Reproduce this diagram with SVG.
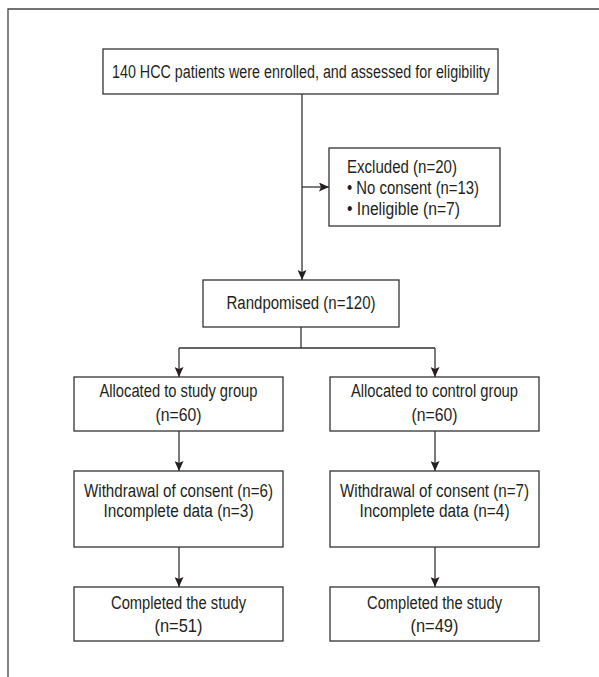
<svg xmlns="http://www.w3.org/2000/svg" width="599" height="677" viewBox="0 0 599 677">
<defs>
<style>
.box{fill:#fff;stroke:#333;stroke-width:1.3}
.t{font-family:"Liberation Sans",Arial,sans-serif;font-size:18px;fill:#231f20}
.c{text-anchor:middle}
.ln{fill:none;stroke:#333;stroke-width:1.3}
.frame{fill:none;stroke:#444;stroke-width:1.3}
</style>
<marker id="arr" viewBox="0 0 10 9" refX="10" refY="4.5" markerWidth="10" markerHeight="9" markerUnits="userSpaceOnUse" orient="auto">
<path d="M0,0 L10,4.5 L0,9 L2,4.5 z" fill="#231f20"/>
</marker>
</defs>
<rect width="599" height="677" fill="#fff"/>
<path class="frame" d="M8,677 L8,9 L599,9"/>
<g id="connectors">
<path class="ln" d="M302,94 L302,280" marker-end="url(#arr)"/>
<path class="ln" d="M302,187 L329,187" marker-end="url(#arr)"/>
<path class="ln" d="M301,327 L301,348 M179,348 L435,348"/>
<path class="ln" d="M179,348 L179,377" marker-end="url(#arr)"/>
<path class="ln" d="M435,348 L435,377" marker-end="url(#arr)"/>
<path class="ln" d="M179,431 L179,471" marker-end="url(#arr)"/>
<path class="ln" d="M435,431 L435,471" marker-end="url(#arr)"/>
<path class="ln" d="M179,547 L179,587" marker-end="url(#arr)"/>
<path class="ln" d="M435,547 L435,587" marker-end="url(#arr)"/>
</g>
<g id="enrolled">
<rect class="box" x="103" y="49" width="395" height="45"/>
<text class="t c" x="301" y="78" textLength="378" lengthAdjust="spacingAndGlyphs">140 HCC patients were enrolled, and assessed for eligibility</text>
</g>
<g id="excluded">
<rect class="box" x="329" y="148" width="171" height="78"/>
<text class="t" x="347" y="173" textLength="110" lengthAdjust="spacingAndGlyphs">Excluded (n=20)</text>
<text class="t" x="347" y="194" textLength="132" lengthAdjust="spacingAndGlyphs">• No consent (n=13)</text>
<text class="t" x="347" y="215" textLength="113" lengthAdjust="spacingAndGlyphs">• Ineligible (n=7)</text>
</g>
<g id="randomised">
<rect class="box" x="203" y="280" width="196" height="47"/>
<text class="t c" x="301" y="309" textLength="149" lengthAdjust="spacingAndGlyphs">Randpomised (n=120)</text>
</g>
<g id="alloc-study">
<rect class="box" x="74" y="377" width="209" height="54"/>
<text class="t c" x="178.5" y="397" textLength="158" lengthAdjust="spacingAndGlyphs">Allocated to study group</text>
<text class="t c" x="178.5" y="421" textLength="46" lengthAdjust="spacingAndGlyphs">(n=60)</text>
</g>
<g id="alloc-control">
<rect class="box" x="330" y="377" width="209" height="54"/>
<text class="t c" x="434.5" y="397" textLength="167" lengthAdjust="spacingAndGlyphs">Allocated to control group</text>
<text class="t c" x="434.5" y="421" textLength="46" lengthAdjust="spacingAndGlyphs">(n=60)</text>
</g>
<g id="withdraw-study">
<rect class="box" x="74" y="471" width="209" height="76"/>
<text class="t c" x="178.5" y="497" textLength="189" lengthAdjust="spacingAndGlyphs">Withdrawal of consent (n=6)</text>
<text class="t c" x="178.5" y="517" textLength="150" lengthAdjust="spacingAndGlyphs">Incomplete data (n=3)</text>
</g>
<g id="withdraw-control">
<rect class="box" x="330" y="471" width="209" height="76"/>
<text class="t c" x="434.5" y="497" textLength="189" lengthAdjust="spacingAndGlyphs">Withdrawal of consent (n=7)</text>
<text class="t c" x="434.5" y="517" textLength="150" lengthAdjust="spacingAndGlyphs">Incomplete data (n=4)</text>
</g>
<g id="completed-study">
<rect class="box" x="74" y="587" width="209" height="54"/>
<text class="t c" x="178.5" y="609" textLength="135" lengthAdjust="spacingAndGlyphs">Completed the study</text>
<text class="t c" x="178.5" y="632" textLength="48" lengthAdjust="spacingAndGlyphs">(n=51)</text>
</g>
<g id="completed-control">
<rect class="box" x="330" y="587" width="209" height="54"/>
<text class="t c" x="434.5" y="609" textLength="135" lengthAdjust="spacingAndGlyphs">Completed the study</text>
<text class="t c" x="434.5" y="632" textLength="48" lengthAdjust="spacingAndGlyphs">(n=49)</text>
</g>
</svg>
